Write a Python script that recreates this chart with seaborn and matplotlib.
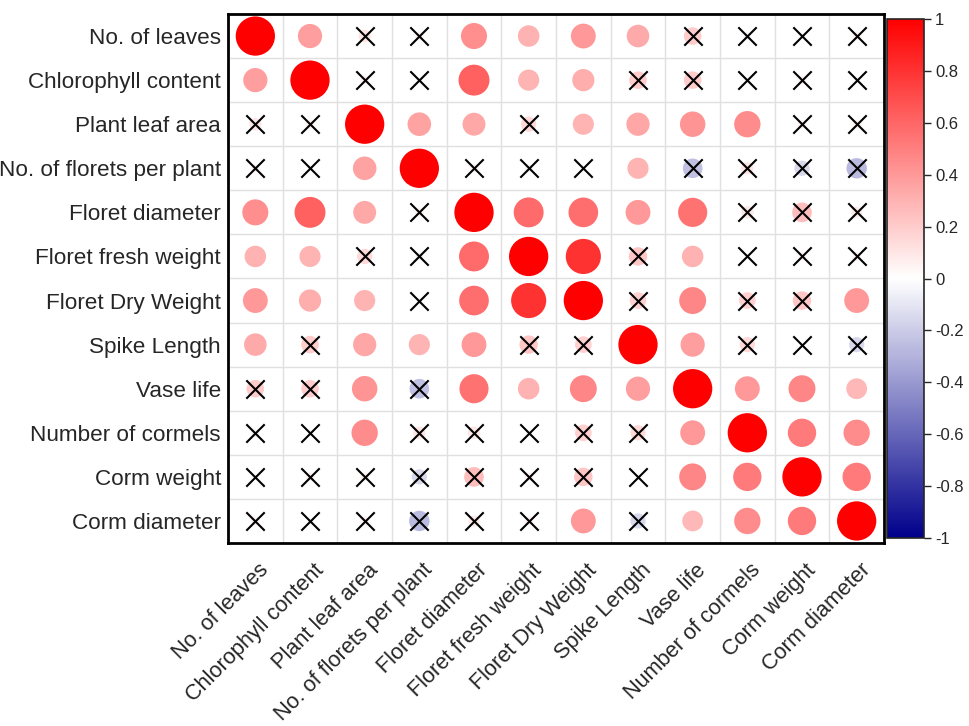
import numpy as np
import pandas as pd
import matplotlib
matplotlib.use("Agg")
import matplotlib.pyplot as plt
import matplotlib.transforms as mtransforms
import seaborn as sns
from matplotlib.colors import LinearSegmentedColormap, Normalize
from matplotlib.cm import ScalarMappable

variables = ["No. of leaves", "Chlorophyll content", "Plant leaf area",
             "No. of florets per plant", "Floret diameter", "Floret fresh weight",
             "Floret Dry Weight", "Spike Length", "Vase life", "Number of cormels",
             "Corm weight", "Corm diameter"]

corr_rows = [
    [1.00, 0.38, 0.10, 0.05, 0.44, 0.30, 0.40, 0.33, 0.20, -0.04, 0.02, 0.05],
    [0.38, 1.00, 0.05, 0.02, 0.62, 0.29, 0.32, 0.20, 0.20, 0.02, 0.05, 0.02],
    [0.10, 0.05, 1.00, 0.36, 0.34, 0.15, 0.29, 0.35, 0.42, 0.45, 0.05, 0.05],
    [0.05, 0.02, 0.36, 1.00, 0.05, -0.04, 0.02, 0.29, -0.25, 0.10, -0.15, -0.27],
    [0.44, 0.62, 0.34, 0.05, 1.00, 0.58, 0.57, 0.40, 0.55, 0.10, 0.25, 0.08],
    [0.30, 0.29, 0.15, -0.04, 0.58, 1.00, 0.80, 0.22, 0.30, 0.02, 0.05, 0.05],
    [0.40, 0.32, 0.29, 0.02, 0.57, 0.80, 1.00, 0.18, 0.47, 0.18, 0.22, 0.40],
    [0.33, 0.20, 0.35, 0.29, 0.40, 0.22, 0.18, 1.00, 0.38, 0.15, 0.02, -0.15],
    [0.20, 0.20, 0.42, -0.25, 0.55, 0.30, 0.47, 0.38, 1.00, 0.40, 0.47, 0.28],
    [-0.04, 0.02, 0.45, 0.10, 0.10, 0.02, 0.18, 0.15, 0.40, 1.00, 0.52, 0.45],
    [0.02, 0.05, 0.05, -0.15, 0.25, 0.05, 0.22, 0.02, 0.47, 0.52, 1.00, 0.52],
    [0.05, 0.02, 0.05, -0.27, 0.08, 0.05, 0.40, -0.15, 0.28, 0.45, 0.52, 1.00],
]
sig_threshold = 0.28

cbar_ticks = [1, 0.8, 0.6, 0.4, 0.2, 0, -0.2, -0.4, -0.6, -0.8, -1]
cbar_labels = ["1", "0.8", "0.6", "0.4", "0.2", "0", "-0.2", "-0.4", "-0.6", "-0.8", "-1"]

n = len(variables)
recs = []
for i in range(n):
    for j in range(n):
        r = corr_rows[i][j]
        recs.append({"row": i, "col": j, "r": r, "absr": abs(r),
                     "sig": abs(r) >= sig_threshold})
df = pd.DataFrame(recs)

sns.set_style("white")
plt.rcParams["font.family"] = ["Liberation Sans", "DejaVu Sans"]

cmap = LinearSegmentedColormap.from_list("bwr_dark", ["#00008B", "#FFFFFF", "#FF0000"])
norm = Normalize(-1, 1)

fig = plt.figure(figsize=(9.69, 7.26), dpi=100)
ax = fig.add_axes([228/969, 1 - 543/726, 656/969, 529/726])

sns.scatterplot(data=df, x="col", y="row", hue="r", palette=cmap, hue_norm=norm,
                size="absr", sizes=(0, 800), size_norm=(0, 1), linewidth=0,
                legend=False, ax=ax, zorder=3)
ins = df[~df["sig"]]
ax.scatter(ins["col"], ins["row"], marker="x", s=175, c="black", linewidths=1.5, zorder=4)

ax.set_xlim(-0.5, n - 0.5)
ax.set_ylim(n - 0.5, -0.5)
ax.set_xticks(range(n))
ax.set_yticks(range(n))
ax.set_xticklabels(variables, rotation=45, ha="right", rotation_mode="anchor", fontsize=15.7)
ax.set_yticklabels(variables, fontsize=16.2)
ax.set_xticks(np.arange(-0.5, n, 1), minor=True)
ax.set_yticks(np.arange(-0.5, n, 1), minor=True)
ax.grid(which="minor", color="#E0E0E0", linewidth=1.0)
ax.grid(which="major", visible=False)
ax.tick_params(which="both", length=0)
ax.tick_params(axis="x", pad=12)
ax.tick_params(axis="y", pad=5)
offset = mtransforms.ScaledTranslation(3/100, 0, fig.dpi_scale_trans)
for lbl in ax.get_xticklabels():
    lbl.set_transform(lbl.get_transform() + offset)
ax.set_xlabel("")
ax.set_ylabel("")
for s in ax.spines.values():
    s.set_visible(True)
    s.set_color("black")
    s.set_linewidth(2)

cax = fig.add_axes([887/969, 1 - 538/726, 37/969, 519/726])
sm = ScalarMappable(norm=norm, cmap=cmap)
cb = fig.colorbar(sm, cax=cax, ticks=cbar_ticks)
cb.ax.set_yticklabels(cbar_labels, fontsize=12)
cb.ax.tick_params(length=5, width=1, direction="out", pad=3)
cb.outline.set_linewidth(1.2)

fig.savefig("out.png", dpi=100)
